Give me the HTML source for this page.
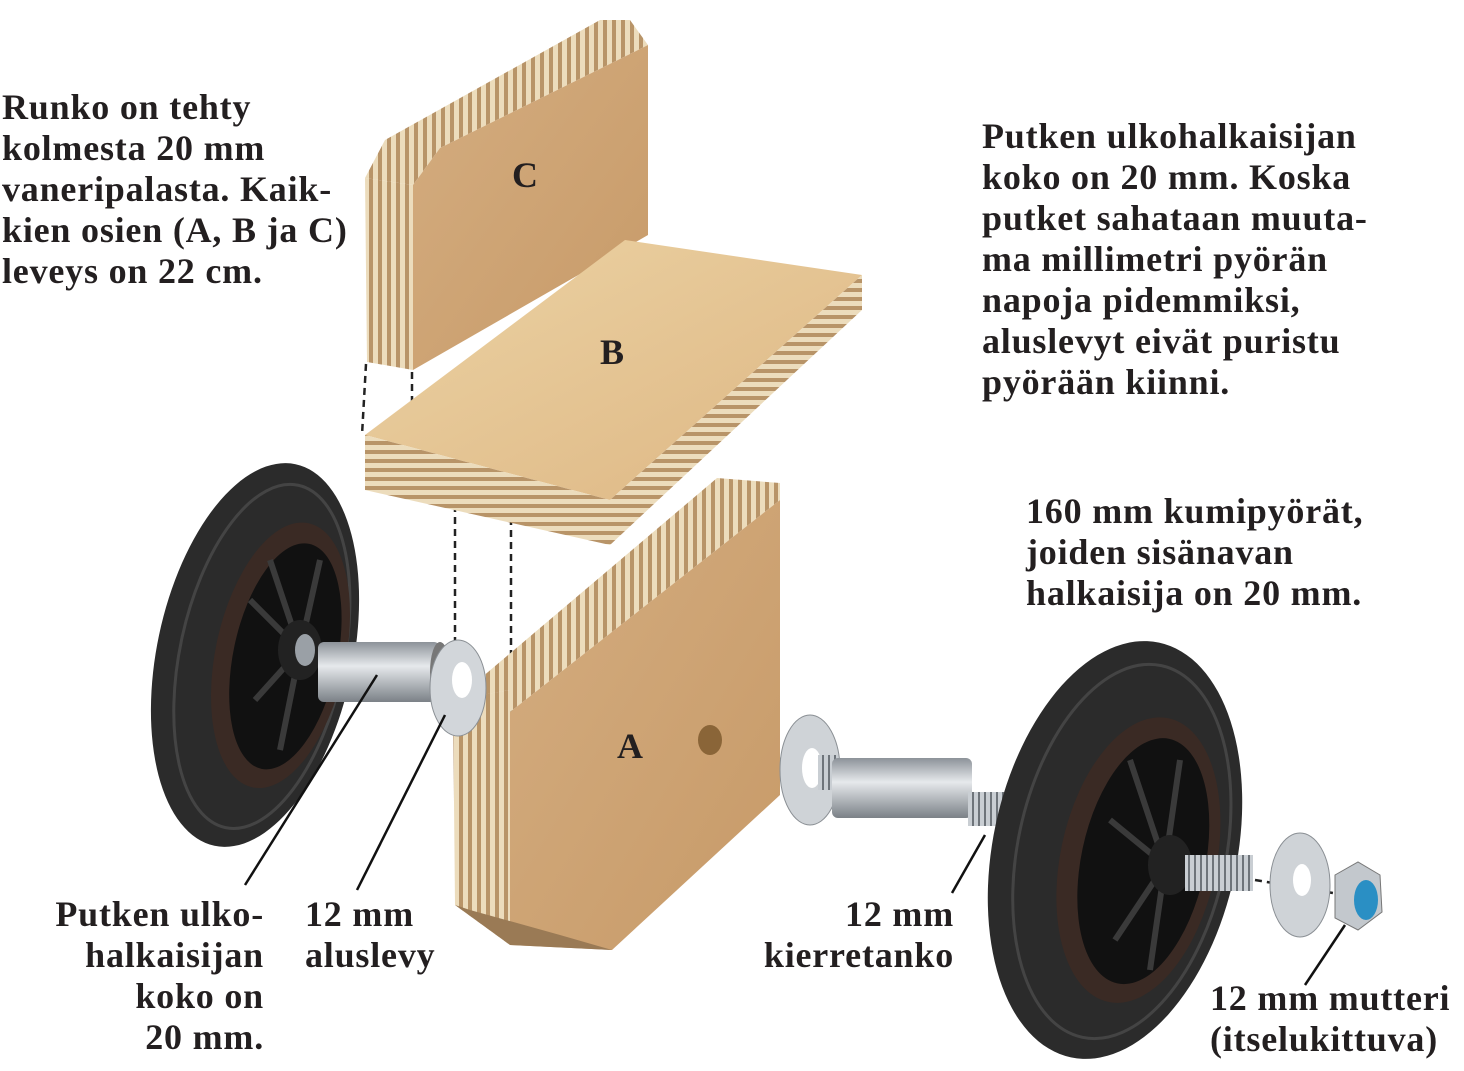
<!DOCTYPE html>
<html><head><meta charset="utf-8"><style>
html,body{margin:0;padding:0;background:#fff;}
body{width:1464px;height:1071px;position:relative;overflow:hidden;font-family:"Liberation Serif","DejaVu Serif",serif;font-weight:bold;color:#231f20;}
.t{position:absolute;font-size:36px;line-height:41px;letter-spacing:0.8px;white-space:nowrap;}
svg{position:absolute;left:0;top:0;}
</style></head><body>
<svg width="1464" height="1071" viewBox="0 0 1464 1071">
<defs>
<linearGradient id="wood" x1="0" y1="0" x2="1" y2="1"><stop offset="0" stop-color="#d4ad80"/><stop offset="1" stop-color="#c79a68"/></linearGradient>
<linearGradient id="woodB" x1="0" y1="0" x2="1" y2="1"><stop offset="0" stop-color="#ecd3a4"/><stop offset="1" stop-color="#ddb683"/></linearGradient>
<pattern id="ply" width="9" height="9" patternUnits="userSpaceOnUse"><rect width="9" height="9" fill="#ecdcbc"/><rect width="4" height="9" fill="#b89468"/></pattern>
<pattern id="plyh" width="9" height="9" patternUnits="userSpaceOnUse"><rect width="9" height="9" fill="#ecdcbc"/><rect width="9" height="4" fill="#b89468"/></pattern>
<linearGradient id="metal" x1="0" y1="0" x2="0" y2="1"><stop offset="0" stop-color="#8c9299"/><stop offset=".4" stop-color="#e6e9ec"/><stop offset="1" stop-color="#7b8187"/></linearGradient>
<pattern id="thread" width="6" height="20" patternUnits="userSpaceOnUse"><rect width="6" height="20" fill="#c9ced3"/><rect width="2" height="20" fill="#6e747a"/></pattern>
</defs>
<!-- Board C -->
<polygon points="365,178 385,140 600,20 630,20 648,45 440,148 413,185" fill="url(#ply)"/>
<polygon points="365,178 413,185 413,370 367,362" fill="url(#ply)"/>
<polygon points="413,185 440,148 648,45 648,235 413,370" fill="url(#wood)"/>
<!-- dashed guides -->
<g stroke="#222" stroke-width="2.5" stroke-dasharray="7,5" fill="none">
<line x1="366" y1="364" x2="362" y2="435"/><line x1="412" y1="372" x2="412" y2="442"/>
<line x1="455" y1="505" x2="455" y2="700"/><line x1="511" y1="518" x2="511" y2="715"/>
<line x1="712" y1="735" x2="835" y2="775"/>
<line x1="1255" y1="880" x2="1345" y2="895"/>
</g>
<!-- Board B -->
<polygon points="365,435 625,240 862,275 610,500" fill="url(#woodB)"/>
<polygon points="365,435 610,500 610,545 365,490" fill="url(#plyh)"/>
<polygon points="610,500 862,275 862,310 610,545" fill="url(#plyh)"/>
<!-- Board A -->
<polygon points="455,700 717,478 780,483 780,500 510,712 510,690" fill="url(#ply)"/>
<polygon points="453,700 510,690 510,945 455,905" fill="url(#ply)"/>
<polygon points="510,712 780,500 780,795 612,950 510,945" fill="url(#wood)"/>
<polygon points="455,905 510,945 612,950 560,935 470,910" fill="#9a7a55"/>
<ellipse cx="710" cy="740" rx="12" ry="15" fill="#8a6538"/>
<!-- Left wheel -->
<g transform="rotate(12 255 655)">
<ellipse cx="255" cy="655" rx="98" ry="195" fill="#2b2b2b"/>
<ellipse cx="262" cy="655" rx="82" ry="175" fill="none" stroke="#444" stroke-width="3"/>
<ellipse cx="280" cy="650" rx="65" ry="135" fill="#3a2a24"/>
<ellipse cx="285" cy="650" rx="52" ry="115" fill="#111"/>
</g>
<g stroke="#3a3a3a" stroke-width="6">
<line x1="300" y1="650" x2="270" y2="560"/><line x1="300" y1="650" x2="250" y2="600"/><line x1="300" y1="650" x2="255" y2="700"/><line x1="300" y1="650" x2="280" y2="750"/><line x1="300" y1="650" x2="320" y2="560"/>
</g>
<ellipse cx="300" cy="650" rx="22" ry="30" fill="#222"/>
<ellipse cx="305" cy="650" rx="10" ry="16" fill="#9aa0a6"/>
<!-- left pipe & washer -->
<rect x="318" y="642" width="122" height="60" rx="6" fill="url(#metal)"/>
<ellipse cx="440" cy="672" rx="10" ry="30" fill="#777"/>
<ellipse cx="458" cy="688" rx="28" ry="48" fill="#d2d6da" stroke="#8a8f94"/>
<ellipse cx="462" cy="680" rx="10" ry="18" fill="#fff"/>
<!-- Right side -->
<ellipse cx="810" cy="770" rx="30" ry="55" fill="#cfd3d7" stroke="#8a8f94"/>
<ellipse cx="812" cy="768" rx="10" ry="20" fill="#fff"/>
<rect x="818" y="755" width="20" height="35" fill="url(#thread)"/>
<rect x="832" y="758" width="140" height="60" rx="6" fill="url(#metal)"/>
<rect x="968" y="792" width="50" height="34" fill="url(#thread)"/>
<g transform="rotate(12 1115 850)">
<ellipse cx="1115" cy="850" rx="122" ry="212" fill="#2b2b2b"/>
<ellipse cx="1122" cy="850" rx="104" ry="190" fill="none" stroke="#444" stroke-width="3"/>
<ellipse cx="1140" cy="855" rx="78" ry="145" fill="#3a2a24"/>
<ellipse cx="1145" cy="855" rx="62" ry="125" fill="#111"/>
</g>
<g stroke="#3a3a3a" stroke-width="6">
<line x1="1165" y1="865" x2="1130" y2="760"/><line x1="1165" y1="865" x2="1110" y2="820"/><line x1="1165" y1="865" x2="1115" y2="940"/><line x1="1165" y1="865" x2="1150" y2="970"/><line x1="1165" y1="865" x2="1180" y2="760"/>
</g>
<ellipse cx="1170" cy="865" rx="22" ry="30" fill="#222"/>
<rect x="1185" y="855" width="68" height="36" fill="url(#thread)"/>
<ellipse cx="1300" cy="885" rx="30" ry="52" fill="#cfd3d7" stroke="#8a8f94"/>
<ellipse cx="1302" cy="880" rx="9" ry="16" fill="#fff"/>
<polygon points="1335,875 1358,862 1380,875 1382,912 1358,930 1335,918" fill="#c3c8cd" stroke="#777"/>
<ellipse cx="1366" cy="900" rx="12" ry="20" fill="#2a8fc4"/>
<!-- leader lines -->
<g stroke="#111" stroke-width="2.5">
<line x1="245" y1="885" x2="377" y2="675"/>
<line x1="357" y1="890" x2="445" y2="715"/>
<line x1="952" y1="893" x2="985" y2="835"/>
<line x1="1305" y1="985" x2="1345" y2="925"/>
</g>
</svg>
<div class="t" style="left:2px;top:87px">Runko on tehty<br>kolmesta 20 mm<br>vaneripalasta. Kaik-<br>kien osien (A, B ja C)<br>leveys on 22 cm.</div>
<div class="t" style="left:982px;top:116px">Putken ulkohalkaisijan<br>koko on 20 mm. Koska<br>putket sahataan muuta-<br>ma millimetri pyörän<br>napoja pidemmiksi,<br>aluslevyt eivät puristu<br>pyörään kiinni.</div>
<div class="t" style="left:1026px;top:491px">160 mm kumipyörät,<br>joiden sisänavan<br>halkaisija on 20 mm.</div>
<div class="t" style="right:1200px;top:894px;text-align:right">Putken ulko-<br>halkaisijan<br>koko on<br>20 mm.</div>
<div class="t" style="left:305px;top:894px">12 mm<br>aluslevy</div>
<div class="t" style="right:510px;top:894px;text-align:right">12 mm<br>kierretanko</div>
<div class="t" style="left:1210px;top:978px">12 mm mutteri<br>(itselukittuva)</div>
<div class="t" style="left:512px;top:155px">C</div>
<div class="t" style="left:600px;top:332px">B</div>
<div class="t" style="left:617px;top:726px">A</div>
</body></html>
